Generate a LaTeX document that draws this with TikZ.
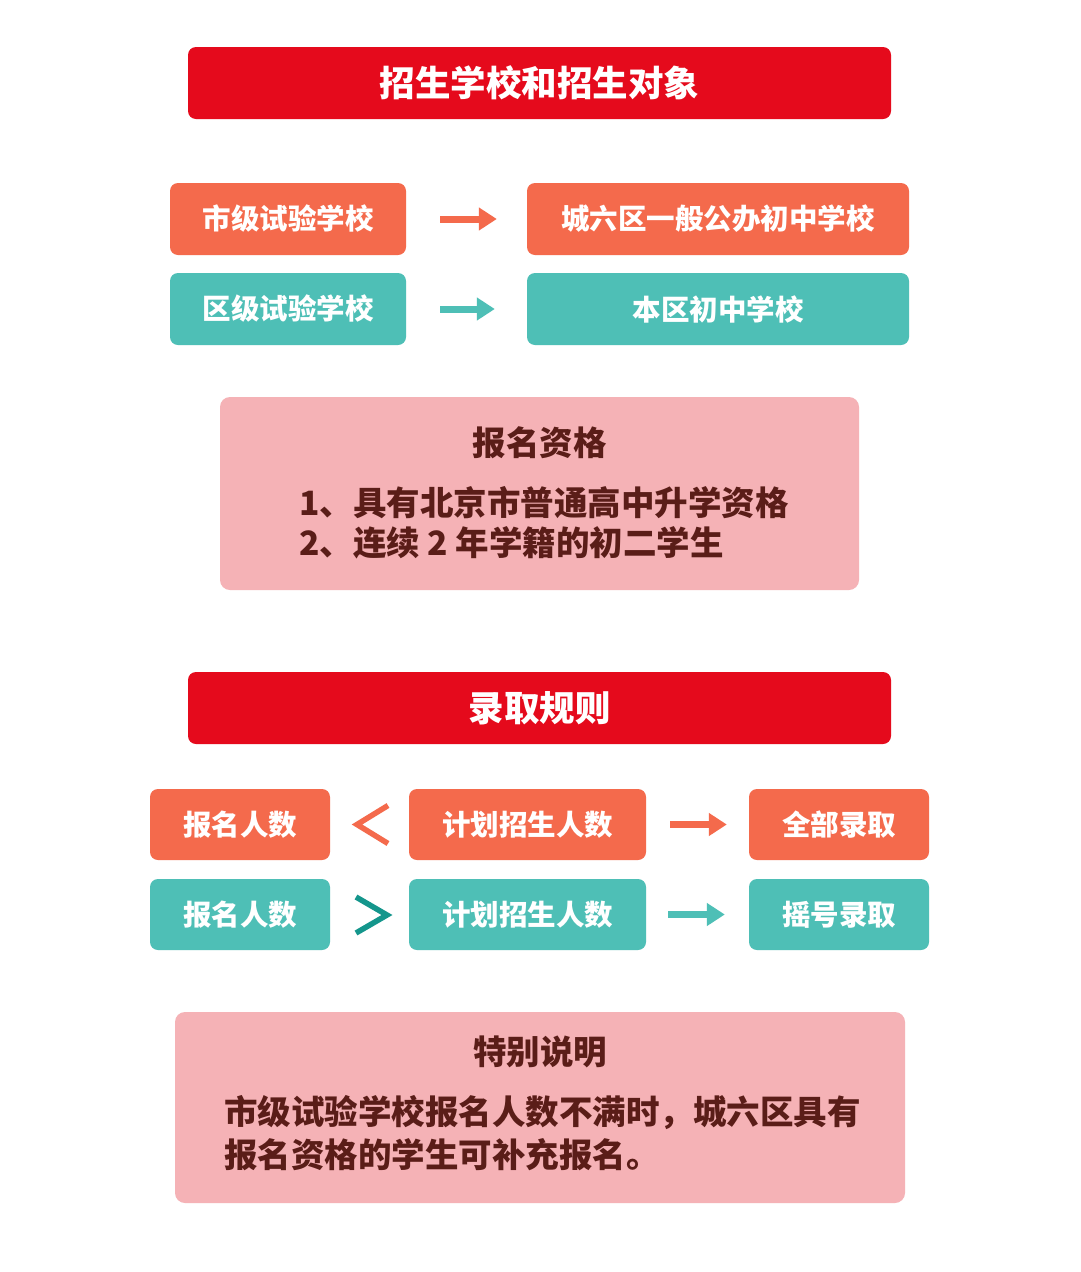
\documentclass[tikz,border=0pt]{standalone}
\usepackage{fontspec}
\setmainfont{Noto Sans CJK SC}
\usetikzlibrary{arrows.meta}
\definecolor{redhead}{HTML}{E50A1C}
\definecolor{orng}{HTML}{F46A4C}
\definecolor{teal}{HTML}{4EBFB6}
\definecolor{dteal}{HTML}{14968C}
\definecolor{pinkbg}{HTML}{F5B2B6}
\definecolor{brown}{HTML}{5A1D18}
\tikzset{
  head/.style={fill=redhead,rounded corners=8pt},
  htext/.style={text=white,font=\bfseries\fontsize{35.5}{40}\selectfont},
  obox/.style={fill=orng,rounded corners=8pt,text=white,font=\bfseries\fontsize{28.5}{32}\selectfont},
  tbox/.style={fill=teal,rounded corners=8pt,text=white,font=\bfseries\fontsize{28.5}{32}\selectfont},
  pbox/.style={fill=pinkbg,rounded corners=10pt},
  ptitle/.style={text=brown,font=\bfseries\fontsize{33.5}{40}\selectfont,inner sep=0pt},
  ptext/.style={text=brown,font=\bfseries\fontsize{33.5}{40}\selectfont,inner sep=0pt},
  oarr/.style={draw=orng,line width=7pt,-{Triangle[length=18pt,width=22pt]}},
  tarr/.style={draw=teal,line width=7pt,-{Triangle[length=18pt,width=22pt]}},
}
\begin{document}
\begin{tikzpicture}[x=1pt,y=-1pt]
\useasboundingbox[fill=white] (0,0) rectangle (1080,1272);
% section 1
\path[head] (188,47) rectangle (891,119);
\node[htext] (h1) at (539.5,83) {招生学校和招生对象};
\node[obox,minimum width=236pt,minimum height=72pt] (a1) at (288,219) {市级试验学校};
\node[obox,minimum width=382pt,minimum height=72pt] (b1) at (718,219) {城六区一般公办初中学校};
\node[tbox,minimum width=236pt,minimum height=72pt] (a2) at (288,309) {区级试验学校};
\node[tbox,minimum width=382pt,minimum height=72pt] (b2) at (718,309) {本区初中学校};
\draw[oarr,shorten <=34pt,shorten >=30pt] (a1.east) -- (b1.west);
\draw[tarr,shorten <=34pt,shorten >=32pt] (a2.east) -- (b2.west);
\node[pbox,minimum width=639pt,minimum height=193pt] (q) at (539.5,493.5) {};
\node[ptitle] (qt) at (539.5,443) {报名资格};
\node[ptext,anchor=west] (q1) at (299,503) {1、具有北京市普通高中升学资格};
\node[ptext,anchor=west] (q2) at (299,543) {2、连续 2 年学籍的初二学生};
% section 2
\path[head] (188,672) rectangle (891,744);
\node[htext] (h2) at (539.5,708) {录取规则};
\node[obox,minimum width=180pt,minimum height=71pt] (c1) at (240,824.5) {报名人数};
\node[obox,minimum width=237pt,minimum height=71pt] (d1) at (527.5,824.5) {计划招生人数};
\node[obox,minimum width=180pt,minimum height=71pt] (e1) at (839,824.5) {全部录取};
\node[tbox,minimum width=180pt,minimum height=71pt] (c2) at (240,914.5) {报名人数};
\node[tbox,minimum width=237pt,minimum height=71pt] (d2) at (527.5,914.5) {计划招生人数};
\node[tbox,minimum width=180pt,minimum height=71pt] (e2) at (839,914.5) {摇号录取};
\draw[oarr,shorten <=24pt,shorten >=22pt] (d1.east) -- (e1.west);
\draw[tarr,shorten <=22pt,shorten >=24pt] (d2.east) -- (e2.west);
\coordinate (lt) at (372,824.5);
\coordinate (gt) at (372,915);
\draw[orng,line width=5.5pt,line join=miter] ([shift={(16,-19)}]lt) -- ([shift={(-15,0)}]lt) -- ([shift={(16,19)}]lt);
\draw[dteal,line width=5.5pt,line join=miter] ([shift={(-16,-18)}]gt) -- ([shift={(15,0)}]gt) -- ([shift={(-16,18)}]gt);
\node[pbox,minimum width=730pt,minimum height=191pt] (s) at (540,1107.5) {};
\node[ptitle] (st) at (540,1052) {特别说明};
\node[ptext,anchor=west] (s1) at (224,1113) {市级试验学校报名人数不满时，城六区具有};
\node[ptext,anchor=west] (s2) at (224,1155) {报名资格的学生可补充报名。};
\end{tikzpicture}
\end{document}
